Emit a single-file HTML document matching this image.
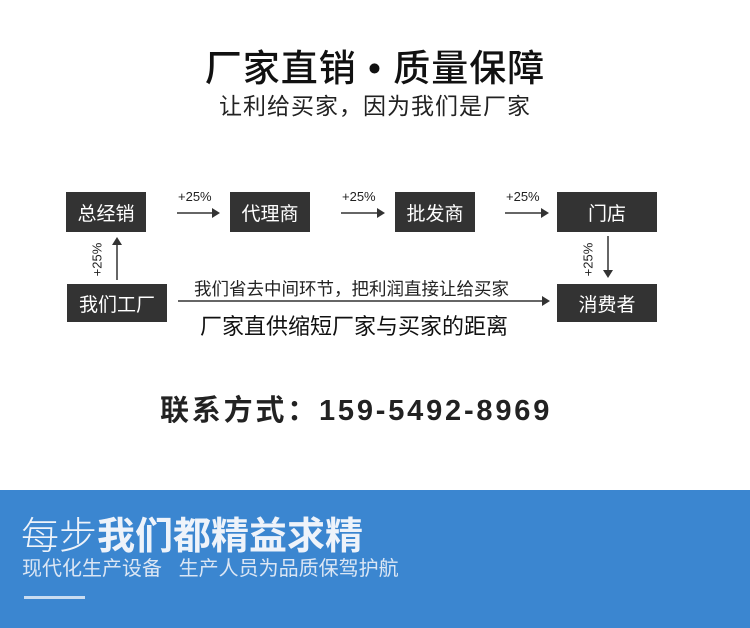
<!DOCTYPE html>
<html><head><meta charset="utf-8"><style>
body{margin:0;width:750px;height:628px;position:relative;background:#fff;font-family:"Liberation Sans","Noto Sans CJK SC",sans-serif;overflow:hidden;color:#111}
.a{position:absolute;white-space:nowrap}
.box{position:absolute;background:#333;color:#fff;font-size:19px;display:flex;align-items:center;justify-content:center}
.p{position:absolute;font-size:13px;color:#222}
</style></head><body>
<div class="a" style="left:0;width:750px;top:38px;text-align:center;font-size:37px;font-weight:500;letter-spacing:1px">厂家直销 • 质量保障</div>
<div class="a" style="left:0;width:750px;top:87px;text-align:center;font-size:23px;color:#222;letter-spacing:1px">让利给买家，因为我们是厂家</div>

<div class="box" style="left:66px;top:192px;width:80px;height:40px">总经销</div>
<div class="box" style="left:230px;top:192px;width:80px;height:40px">代理商</div>
<div class="box" style="left:395px;top:192px;width:80px;height:40px">批发商</div>
<div class="box" style="left:557px;top:192px;width:100px;height:40px">门店</div>
<div class="box" style="left:67px;top:284px;width:100px;height:38px">我们工厂</div>
<div class="box" style="left:557px;top:284px;width:100px;height:38px">消费者</div>

<div class="p" style="left:178px;top:189px">+25%</div>
<div class="p" style="left:342px;top:189px">+25%</div>
<div class="p" style="left:506px;top:189px">+25%</div>
<div class="p" style="left:80px;top:252px;transform:rotate(-90deg)">+25%</div>
<div class="p" style="left:571px;top:252px;transform:rotate(-90deg)">+25%</div>

<svg class="a" style="left:0;top:0" width="750" height="628">
<g stroke="#333" stroke-width="1.5" fill="#333">
<line x1="177" y1="213" x2="212" y2="213"/><polygon points="212,208 220,213 212,218" stroke="none"/>
<line x1="341" y1="213" x2="377" y2="213"/><polygon points="377,208 385,213 377,218" stroke="none"/>
<line x1="505" y1="213" x2="541" y2="213"/><polygon points="541,208 549,213 541,218" stroke="none"/>
<line x1="117" y1="280" x2="117" y2="245"/><polygon points="112,245 117,237 122,245" stroke="none"/>
<line x1="608" y1="236" x2="608" y2="270"/><polygon points="603,270 608,278 613,270" stroke="none"/>
<line x1="178" y1="301" x2="542" y2="301"/><polygon points="542,296 550,301 542,306" stroke="none"/>
</g></svg>
<div class="a" style="left:194px;top:276px;font-size:17.5px;color:#222">我们省去中间环节，把利润直接让给买家</div>
<div class="a" style="left:200px;top:309px;font-size:22px;color:#111">厂家直供缩短厂家与买家的距离</div>

<div class="a" style="left:160px;top:387px;font-size:29px;font-weight:bold;color:#222;letter-spacing:2.8px">联系方式：159-5492-8969</div>

<div class="a" style="left:0;top:490px;width:750px;height:138px;background:#3b86d0"></div>
<div class="a" style="left:21px;top:505px;font-size:38px;color:#eef3fa"><span style="font-weight:300">每步</span><span style="font-weight:bold">我们都精益求精</span></div>
<div class="a" style="left:22px;top:552px;font-size:20px;color:#dbe6f4">现代化生产设备&nbsp;&nbsp;&nbsp;生产人员为品质保驾护航</div>
<div class="a" style="left:24px;top:596px;width:61px;height:3px;background:#c9dcf1"></div>
</body></html>
